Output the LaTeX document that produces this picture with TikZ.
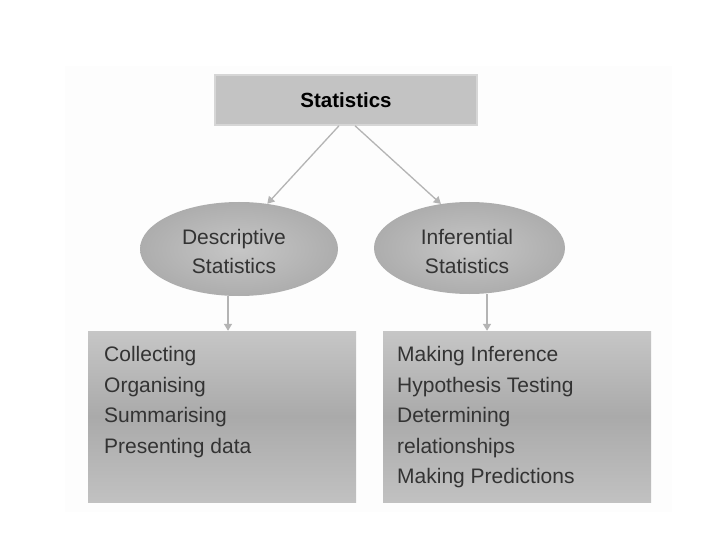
\documentclass[tikz,border=0pt]{standalone}
\usepackage{fontspec}
\setmainfont{Liberation Sans}
\usetikzlibrary{shapes.geometric,arrows.meta}
\definecolor{panelgray}{HTML}{FDFDFD}
\definecolor{topgray}{HTML}{C3C3C3}
\definecolor{topline}{HTML}{D6D6D6}
\definecolor{arrgray}{HTML}{B4B4B4}
\definecolor{ellin}{HTML}{C6C6C6}
\definecolor{ellout}{HTML}{ADADAD}
\definecolor{boxtop}{HTML}{C6C6C6}
\definecolor{boxmid}{HTML}{AAAAAA}
\definecolor{boxbot}{HTML}{C1C1C1}
\definecolor{txtgray}{HTML}{333333}
\begin{document}
\begin{tikzpicture}[x=1pt,y=-1pt,
  titlebox/.style={rectangle, fill=topgray, draw=topline, line width=1.5pt,
    minimum width=262pt, minimum height=50pt, inner sep=0pt,
    font=\bfseries\fontsize{20.5}{24}\selectfont, text=black},
  oval/.style={ellipse, inner sep=0pt, inner color=ellin, outer color=ellout},
  ovaltext/.style={inner sep=0pt, align=center,
    font=\fontsize{21}{29}\selectfont, text=txtgray},
  listbox/.style={rectangle, inner sep=0pt, minimum width=268pt, minimum height=171pt,
    top color=boxtop, bottom color=boxbot, middle color=boxmid},
  listtext/.style={anchor=north west, inner sep=0pt, align=left,
    font=\fontsize{21}{30.5}\selectfont, text=txtgray},
  arr/.style={draw=arrgray, line width=1.3pt,
    -{Triangle[width=8pt,length=7pt,fill=arrgray]}}
  ]
\useasboundingbox (0,0) rectangle (720,540);
\fill[panelgray] (65,66) rectangle (672,512);

\node[titlebox] (stat) at (346,100) {Statistics};

\node[oval, minimum width=198pt, minimum height=94pt] (desc) at (239,249) {};
\node[ovaltext] (desct) at (234,251) {Descriptive\\Statistics};
\node[oval, minimum width=191pt, minimum height=92pt] (inf) at (469.5,248) {};
\node[ovaltext] (inft) at (467,251) {Inferential\\Statistics};

\node[listbox] (lbox) at (222,416.5) {};
\node[listbox] (rbox) at (517,416.5) {};

\node[listtext] (ltxt) at (104,340) {\strut Collecting\\Organising\\Summarising\\Presenting data};
\node[listtext] (rtxt) at (397,340) {\strut Making Inference\\Hypothesis Testing\\Determining\\relationships\\Making Predictions};

\coordinate (ldx) at (228,331);
\coordinate (rdx) at (487,331);

\draw[arr] ([xshift=-7pt]stat.south) -- (desc.58);
\draw[arr] ([xshift=9pt]stat.south) -- (inf.123);
\draw[arr] (desc.south -| ldx) -- (lbox.north -| ldx);
\draw[arr] (inf.south -| rdx) -- (rbox.north -| rdx);
\end{tikzpicture}
\end{document}
